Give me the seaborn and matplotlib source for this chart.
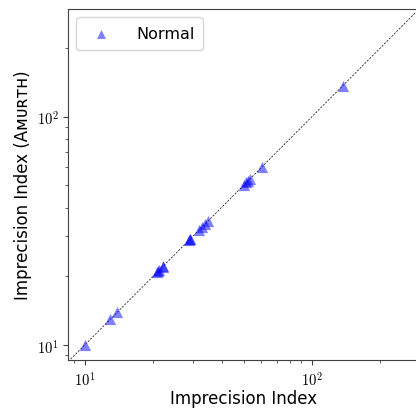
import numpy as np
import pandas as pd
import matplotlib
matplotlib.use("Agg")
import matplotlib.pyplot as plt
import seaborn as sns

# imprecision index per benchmark: baseline vs. AMURTH
baseline = [10.0, 12.9, 13.8, 20.8, 21.0, 21.3, 22.0, 22.2, 28.8, 29.0, 29.2,
            31.8, 32.8, 33.8, 35.0, 50.0, 51.5, 52.2, 53.2, 60.5, 137.0]
amurth = [10.0, 13.0, 13.9, 20.8, 21.0, 21.3, 22.0, 22.2, 28.8, 29.0, 29.2,
          31.8, 32.8, 33.8, 35.0, 50.0, 51.5, 52.2, 53.2, 60.5, 137.0]
lims = [8.45, 295.0]

sns.set_style("ticks", {"axes.edgecolor": "0.25", "text.color": "black",
                        "axes.labelcolor": "black", "xtick.color": "0.25",
                        "ytick.color": "0.25"})
plt.rcParams["font.family"] = ["DejaVu Sans"]
plt.rcParams["mathtext.fontset"] = "cm"

df = pd.DataFrame({"base": baseline, "amurth": amurth})

fig = plt.figure(figsize=(4.16, 4.10), dpi=100)
ax = fig.add_axes([0.164, 0.12, 0.842, 0.855])

ax.plot(lims, lims, color="black", linestyle=(0, (3, 2)), linewidth=0.5, zorder=1)
sns.scatterplot(data=df, x="base", y="amurth", marker="^", color="blue",
                alpha=0.5, s=65, linewidth=0, label="Normal", ax=ax, zorder=2)

ax.set_xscale("log")
ax.set_yscale("log")
ax.set_xlim(lims)
ax.set_ylim(8.6, 296)
ax.set_xticks([10, 100])
ax.set_xticklabels([r"$10^{1}$", r"$10^{2}$"])
ax.set_yticks([10, 100])
ax.set_yticklabels([r"$10^{1}$", r"$10^{2}$"])
ax.tick_params(labelsize=10.5, labelcolor="black")

ax.set_xlabel("Imprecision Index", fontsize=12, labelpad=1)
ax.set_ylabel("Imprecision Index (A\u1d0d\u1d1c\u0280\u1d1b\u029c)", fontsize=12, labelpad=3)

leg = ax.legend(loc="upper left", fontsize=11.5, handletextpad=1.2, borderpad=0.55,
                markerscale=0.8)

fig.savefig("out.png", dpi=100)
